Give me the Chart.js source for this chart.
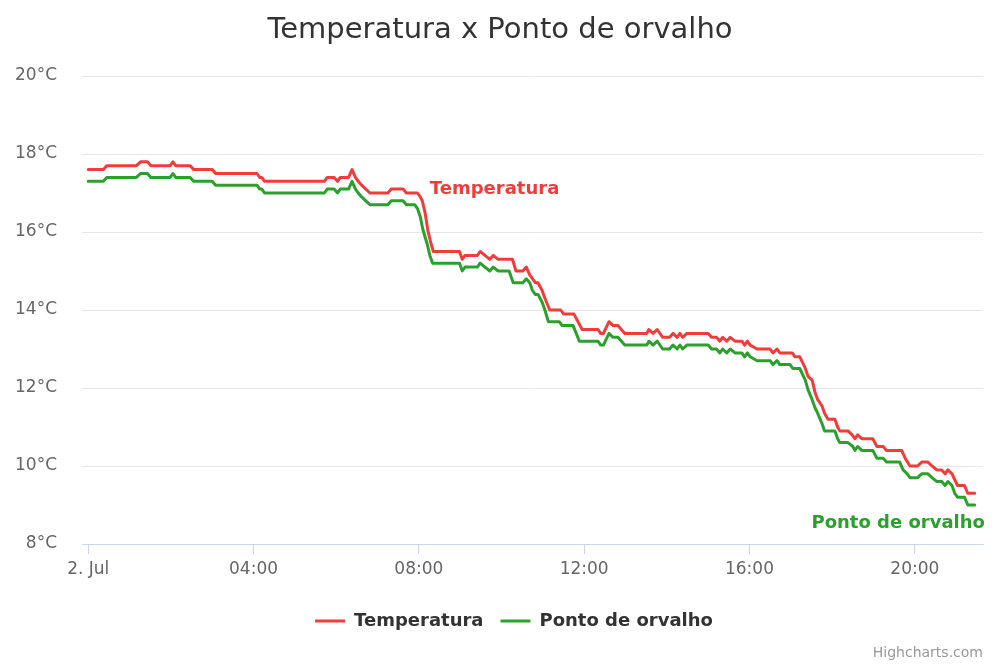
<!DOCTYPE html>
<html><head><meta charset="utf-8">
<script src="https://cdn.jsdelivr.net/npm/chart.js@4.4.0/dist/chart.umd.min.js"></script>
<style>html,body{margin:0;padding:0;background:#fff}canvas{display:block}</style>
</head><body>
<canvas id="c" width="1000" height="667"></canvas>
<script>
// Time in minutes after midnight (2 Jul)
const tempTimes = [0,22,27,70,76,86,91,119,123,127,148,153,180,185,245,249,252,256,343,347,357,362,366,378,383,388,392,397,403,409,435,440,457,462,478,482,485,489,493,497,501,539,543,547,565,569,576,583,588,595,616,621,631,636,641,649,653,659,663,670,686,690,705,717,740,744,748,756,762,769,779,811,814,820,826,834,844,849,855,859,863,869,900,905,912,917,921,927,932,939,949,953,957,961,971,990,994,1000,1004,1022,1026,1033,1040,1045,1051,1055,1059,1065,1069,1074,1084,1088,1091,1103,1109,1113,1117,1123,1139,1145,1154,1159,1181,1186,1193,1204,1210,1219,1225,1232,1239,1244,1248,1254,1262,1272,1277,1287];
const tempValues = [17.6,17.6,17.7,17.7,17.8,17.8,17.7,17.7,17.8,17.7,17.7,17.6,17.6,17.5,17.5,17.4,17.4,17.3,17.3,17.4,17.4,17.3,17.4,17.4,17.6,17.4,17.3,17.2,17.1,17.0,17.0,17.1,17.1,17.0,17.0,16.9,16.8,16.5,16.05,15.75,15.5,15.5,15.3,15.4,15.4,15.5,15.4,15.3,15.4,15.3,15.3,15.0,15.0,15.1,14.9,14.7,14.7,14.5,14.3,14.0,14.0,13.9,13.9,13.5,13.5,13.4,13.4,13.7,13.6,13.6,13.4,13.4,13.5,13.4,13.5,13.3,13.3,13.4,13.3,13.4,13.3,13.4,13.4,13.3,13.3,13.2,13.3,13.2,13.3,13.2,13.2,13.1,13.2,13.1,13.0,13.0,12.9,13.0,12.9,12.9,12.8,12.8,12.55,12.3,12.2,11.9,11.7,11.55,11.35,11.2,11.2,11.0,10.9,10.9,10.8,10.7,10.8,10.7,10.7,10.5,10.5,10.4,10.4,10.2,10.0,10.0,10.1,10.1,10.0,9.9,9.9,9.8,9.9,9.8,9.5,9.5,9.3,9.3];
const dewTimes = [0,22,27,70,76,86,91,119,123,127,148,153,180,185,245,249,252,256,343,347,357,362,366,378,383,388,392,397,403,409,435,440,457,462,474,478,482,486,492,496,500,539,543,547,565,569,576,583,588,595,611,617,631,636,641,645,649,653,659,663,668,684,688,704,713,740,744,748,756,762,769,779,811,814,820,826,834,844,849,855,859,863,869,900,905,912,917,921,927,932,939,949,953,957,961,971,990,994,1000,1004,1019,1023,1033,1037,1041,1045,1051,1055,1059,1065,1069,1084,1088,1091,1103,1110,1113,1117,1123,1139,1145,1154,1159,1178,1183,1189,1193,1204,1210,1219,1225,1232,1239,1244,1248,1254,1258,1262,1272,1277,1287];
const dewValues = [17.3,17.3,17.4,17.4,17.5,17.5,17.4,17.4,17.5,17.4,17.4,17.3,17.3,17.2,17.2,17.1,17.1,17.0,17.0,17.1,17.1,17.0,17.1,17.1,17.3,17.1,17.0,16.9,16.8,16.7,16.7,16.8,16.8,16.7,16.7,16.6,16.4,16.05,15.7,15.4,15.2,15.2,15.0,15.1,15.1,15.2,15.1,15.0,15.1,15.0,15.0,14.7,14.7,14.8,14.7,14.5,14.4,14.4,14.2,14.0,13.7,13.7,13.6,13.6,13.2,13.2,13.1,13.1,13.4,13.3,13.3,13.1,13.1,13.2,13.1,13.2,13.0,13.0,13.1,13.0,13.1,13.0,13.1,13.1,13.0,13.0,12.9,13.0,12.9,13.0,12.9,12.9,12.8,12.9,12.8,12.7,12.7,12.6,12.7,12.6,12.6,12.5,12.5,12.35,12.2,11.95,11.7,11.5,11.35,11.1,10.9,10.9,10.7,10.6,10.6,10.5,10.4,10.5,10.4,10.4,10.2,10.2,10.1,10.1,9.9,9.8,9.7,9.7,9.8,9.8,9.7,9.6,9.6,9.5,9.6,9.5,9.3,9.2,9.2,9.0,9.0];
const seriesNames = ['Temperatura', 'Ponto de orvalho'];
const xTickMinutes = [0, 240, 480, 720, 960, 1200];
const yTickValues = [8, 10, 12, 14, 16, 18, 20];
const chartTitle = 'Temperatura x Ponto de orvalho';
const creditText = 'Highcharts.com';

const RED = '#f23c3c', GREEN = '#2ca02c';
const FONT = '"DejaVu Sans", sans-serif';

function pts(t, v) { return t.map((tt, i) => ({x: tt, y: v[i]})); }
function fmtTick(m) {
  if (m === 0) return '2. Jul';
  const h = Math.floor(m / 60);
  return String(h).padStart(2, '0') + ':00';
}

const textPlugin = {
  id: 'texts',
  afterDatasetsDraw(chart) {
    const {ctx, scales: {x, y}} = chart;
    const labels = [
      {text: seriesNames[0], color: RED, t: 496, v: 17.1},
      {text: seriesNames[1], color: GREEN, t: 1050, v: 8.54}
    ];
    ctx.save();
    ctx.font = 'bold 18px ' + FONT;
    ctx.textAlign = 'left';
    ctx.textBaseline = 'middle';
    labels.forEach(l => {
      ctx.fillStyle = l.color;
      ctx.fillText(l.text, x.getPixelForValue(l.t), y.getPixelForValue(l.v));
    });
    ctx.restore();
  },
  afterDraw(chart) {
    const {ctx, width} = chart;
    ctx.save();
    ctx.textAlign = 'center';
    ctx.textBaseline = 'middle';
    ctx.fillStyle = '#333333';
    ctx.font = '29px ' + FONT;
    ctx.fillText(chartTitle, width / 2, 30);
    ctx.textAlign = 'right';
    ctx.fillStyle = '#999999';
    ctx.font = '14px ' + FONT;
    ctx.fillText(creditText, 983, 653);
    ctx.restore();
  }
};

new Chart(document.getElementById('c'), {
  type: 'line',
  data: {
    datasets: [
      {label: seriesNames[0], data: pts(tempTimes, tempValues), borderColor: RED, backgroundColor: RED,
       borderWidth: 3, pointRadius: 0, tension: 0, borderJoinStyle: 'round', borderCapStyle: 'round', pointStyle: 'line', order: 1},
      {label: seriesNames[1], data: pts(dewTimes, dewValues), borderColor: GREEN, backgroundColor: GREEN,
       borderWidth: 3, pointRadius: 0, tension: 0, borderJoinStyle: 'round', borderCapStyle: 'round', pointStyle: 'line', order: 0}
    ]
  },
  options: {
    responsive: false,
    animation: false,
    layout: {padding: {left: 10, right: -18, top: 76, bottom: 27}},
    plugins: {
      title: {display: false},
      tooltip: {enabled: false},
      legend: {
        position: 'bottom',
        labels: {
          usePointStyle: true,
          pointStyleWidth: 30,
          padding: 17,
          color: '#333333',
          font: {family: FONT, size: 18, weight: 'bold'},
          sort: (a, b) => a.datasetIndex - b.datasetIndex
        }
      }
    },
    scales: {
      x: {
        type: 'linear',
        min: -9,
        max: 1299,
        afterBuildTicks: s => { s.ticks = xTickMinutes.map(v => ({value: v})); },
        afterFit: s => { s.height = 51; },
        grid: {drawOnChartArea: false, drawTicks: true, tickLength: 10, color: '#ccd6eb'},
        border: {color: '#ccd6eb', width: 1},
        ticks: {color: '#666666', font: {family: FONT, size: 17}, padding: 5, maxRotation: 0,
                callback: v => fmtTick(v)}
      },
      y: {
        min: 8,
        max: 20,
        afterBuildTicks: s => { s.ticks = yTickValues.map(v => ({value: v})); },
        afterFit: s => { s.width = 72; },
        grid: {color: '#e6e6e6', drawTicks: false},
        border: {display: false},
        ticks: {color: '#666666', font: {family: FONT, size: 17}, padding: 25,
                callback: v => v + '°C'}
      },
      yRight: {
        position: 'right',
        display: true,
        min: 0,
        max: 1,
        afterFit: s => { s.width = 35; },
        grid: {display: false},
        border: {display: false},
        ticks: {display: false}
      }
    }
  },
  plugins: [textPlugin]
});
</script>
</body></html>
